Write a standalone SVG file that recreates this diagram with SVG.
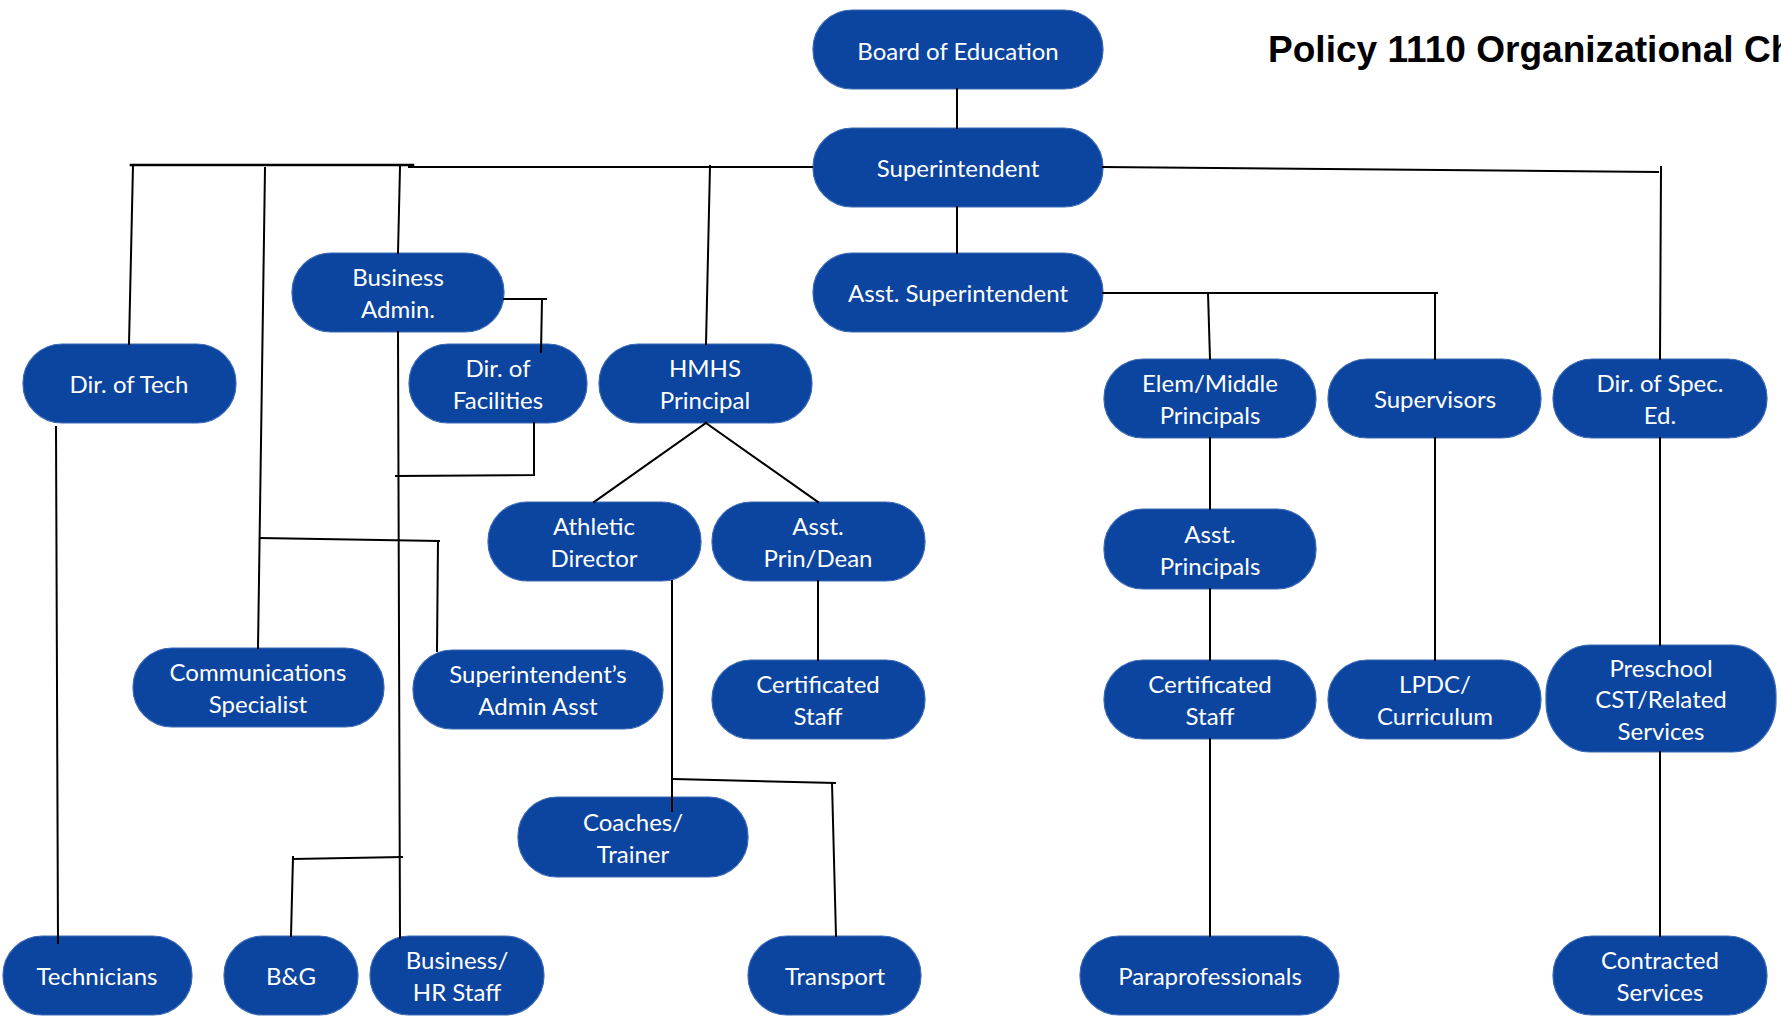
<svg xmlns="http://www.w3.org/2000/svg" width="1781" height="1016" viewBox="0 0 1781 1016">
<style>
.n rect{fill:#0B45A0;stroke:#3A68B5;stroke-width:1.2}
.n text{font-family:Lato,"Liberation Sans",sans-serif;font-size:24px;fill:#fff;text-anchor:middle}
.c path{fill:none;stroke:#000;stroke-width:2;stroke-linecap:square}
.t{font-family:"Liberation Sans",Arial,sans-serif;font-size:36px;font-weight:bold;fill:#000}
</style>
<rect width="1781" height="1016" fill="#fff"/>
<text class="t" transform="translate(1268,62) scale(1.03,1)">Policy 1110 Organizational Chart</text>
<g class="n">
<g id="board"><rect x="813" y="10" width="290" height="79" rx="39"/><text x="958" y="60">Board of Education</text></g>
<g id="superintendent"><rect x="813" y="128" width="290" height="79" rx="39"/><text x="958" y="177">Superintendent</text></g>
<g id="asst-superintendent"><rect x="813" y="253" width="290" height="79" rx="39"/><text x="958" y="302">Asst. Superintendent</text></g>
<g id="business-admin"><rect x="292" y="253" width="212" height="79" rx="39"/><text x="398" y="286">Business</text><text x="398" y="318">Admin.</text></g>
<g id="dir-tech"><rect x="23" y="344" width="213" height="79" rx="39"/><text x="129" y="393">Dir. of Tech</text></g>
<g id="dir-facilities"><rect x="409" y="344" width="178" height="79" rx="39"/><text x="498" y="377">Dir. of</text><text x="498" y="409">Facilities</text></g>
<g id="hmhs-principal"><rect x="599" y="344" width="213" height="79" rx="39"/><text x="705" y="377">HMHS</text><text x="705" y="409">Principal</text></g>
<g id="elem-middle"><rect x="1104" y="359" width="212" height="79" rx="39"/><text x="1210" y="392">Elem/Middle</text><text x="1210" y="424">Principals</text></g>
<g id="supervisors"><rect x="1328" y="359" width="213" height="79" rx="39"/><text x="1435" y="408">Supervisors</text></g>
<g id="dir-spec-ed"><rect x="1553" y="359" width="214" height="79" rx="39"/><text x="1660" y="392">Dir. of Spec.</text><text x="1660" y="424">Ed.</text></g>
<g id="athletic-director"><rect x="488" y="502" width="213" height="79" rx="39"/><text x="594" y="535">Athletic</text><text x="594" y="567">Director</text></g>
<g id="asst-prin-dean"><rect x="712" y="502" width="213" height="79" rx="39"/><text x="818" y="535">Asst.</text><text x="818" y="567">Prin/Dean</text></g>
<g id="communications"><rect x="133" y="648" width="251" height="79" rx="39"/><text x="258" y="681">Communications</text><text x="258" y="713">Specialist</text></g>
<g id="admin-asst"><rect x="413" y="650" width="250" height="79" rx="39"/><text x="538" y="683">Superintendent’s</text><text x="538" y="715">Admin Asst</text></g>
<g id="certificated-hmhs"><rect x="712" y="660" width="213" height="79" rx="39"/><text x="818" y="693">Certificated</text><text x="818" y="725">Staff</text></g>
<g id="coaches"><rect x="518" y="797" width="230" height="80" rx="39"/><text x="633" y="831">Coaches/</text><text x="633" y="863">Trainer</text></g>
<g id="technicians"><rect x="3" y="936" width="189" height="79" rx="39"/><text x="97" y="985">Technicians</text></g>
<g id="bg"><rect x="224" y="936" width="134" height="79" rx="39"/><text x="291" y="985">B&amp;G</text></g>
<g id="business-hr"><rect x="370" y="936" width="174" height="79" rx="39"/><text x="457" y="969">Business/</text><text x="457" y="1001">HR Staff</text></g>
<g id="transport"><rect x="748" y="936" width="173" height="79" rx="39"/><text x="835" y="985">Transport</text></g>
<g id="asst-principals"><rect x="1104" y="509" width="212" height="80" rx="39"/><text x="1210" y="543">Asst.</text><text x="1210" y="575">Principals</text></g>
<g id="certificated-elem"><rect x="1104" y="660" width="212" height="79" rx="39"/><text x="1210" y="693">Certificated</text><text x="1210" y="725">Staff</text></g>
<g id="lpdc"><rect x="1328" y="660" width="213" height="79" rx="39"/><text x="1435" y="693">LPDC/</text><text x="1435" y="725">Curriculum</text></g>
<g id="preschool"><rect x="1546" y="645" width="230" height="107" rx="44" ry="50"/><text x="1661" y="677">Preschool</text><text x="1661" y="708">CST/Related</text><text x="1661" y="740">Services</text></g>
<g id="paraprofessionals"><rect x="1080" y="936" width="259" height="79" rx="39"/><text x="1210" y="985">Paraprofessionals</text></g>
<g id="contracted"><rect x="1553" y="936" width="214" height="79" rx="39"/><text x="1660" y="969">Contracted</text><text x="1660" y="1001">Services</text></g>
</g>
<g class="c" id="connectors">
<path d="M131,165 L413,165" style="stroke-width:2.6"/>
<path d="M409,167 L812,167"/>
<path d="M133,165 L129,344"/>
<path d="M265,168 L258,648"/>
<path d="M400,167 L398,253"/>
<path d="M398,332 L400,938"/>
<path d="M710,166 L706,344"/>
<path d="M504,299 L546,299"/>
<path d="M542,299 L541,352"/>
<path d="M534,423 L534,475 L396,476"/>
<path d="M706,423 L594,502"/>
<path d="M706,423 L818,502"/>
<path d="M260,538 L439,541"/>
<path d="M438,541 L437,651"/>
<path d="M672,581 L672,811"/>
<path d="M674,779 L835,783"/>
<path d="M832,783 L836,936"/>
<path d="M818,581 L818,660"/>
<path d="M293,859 L402,857"/>
<path d="M293,857 L291,936"/>
<path d="M56,427 L58,943"/>
<path d="M957,89 L957,128"/>
<path d="M957,207 L957,253"/>
<path d="M1103,167 L1658,172"/>
<path d="M1661,167 L1660,359"/>
<path d="M1103,293 L1437,293"/>
<path d="M1208,293 L1210,359"/>
<path d="M1435,293 L1435,359"/>
<path d="M1210,438 L1210,509"/>
<path d="M1210,589 L1210,660"/>
<path d="M1210,739 L1210,936"/>
<path d="M1435,438 L1435,660"/>
<path d="M1660,438 L1660,645"/>
<path d="M1660,752 L1660,936"/>
</g>
</svg>
